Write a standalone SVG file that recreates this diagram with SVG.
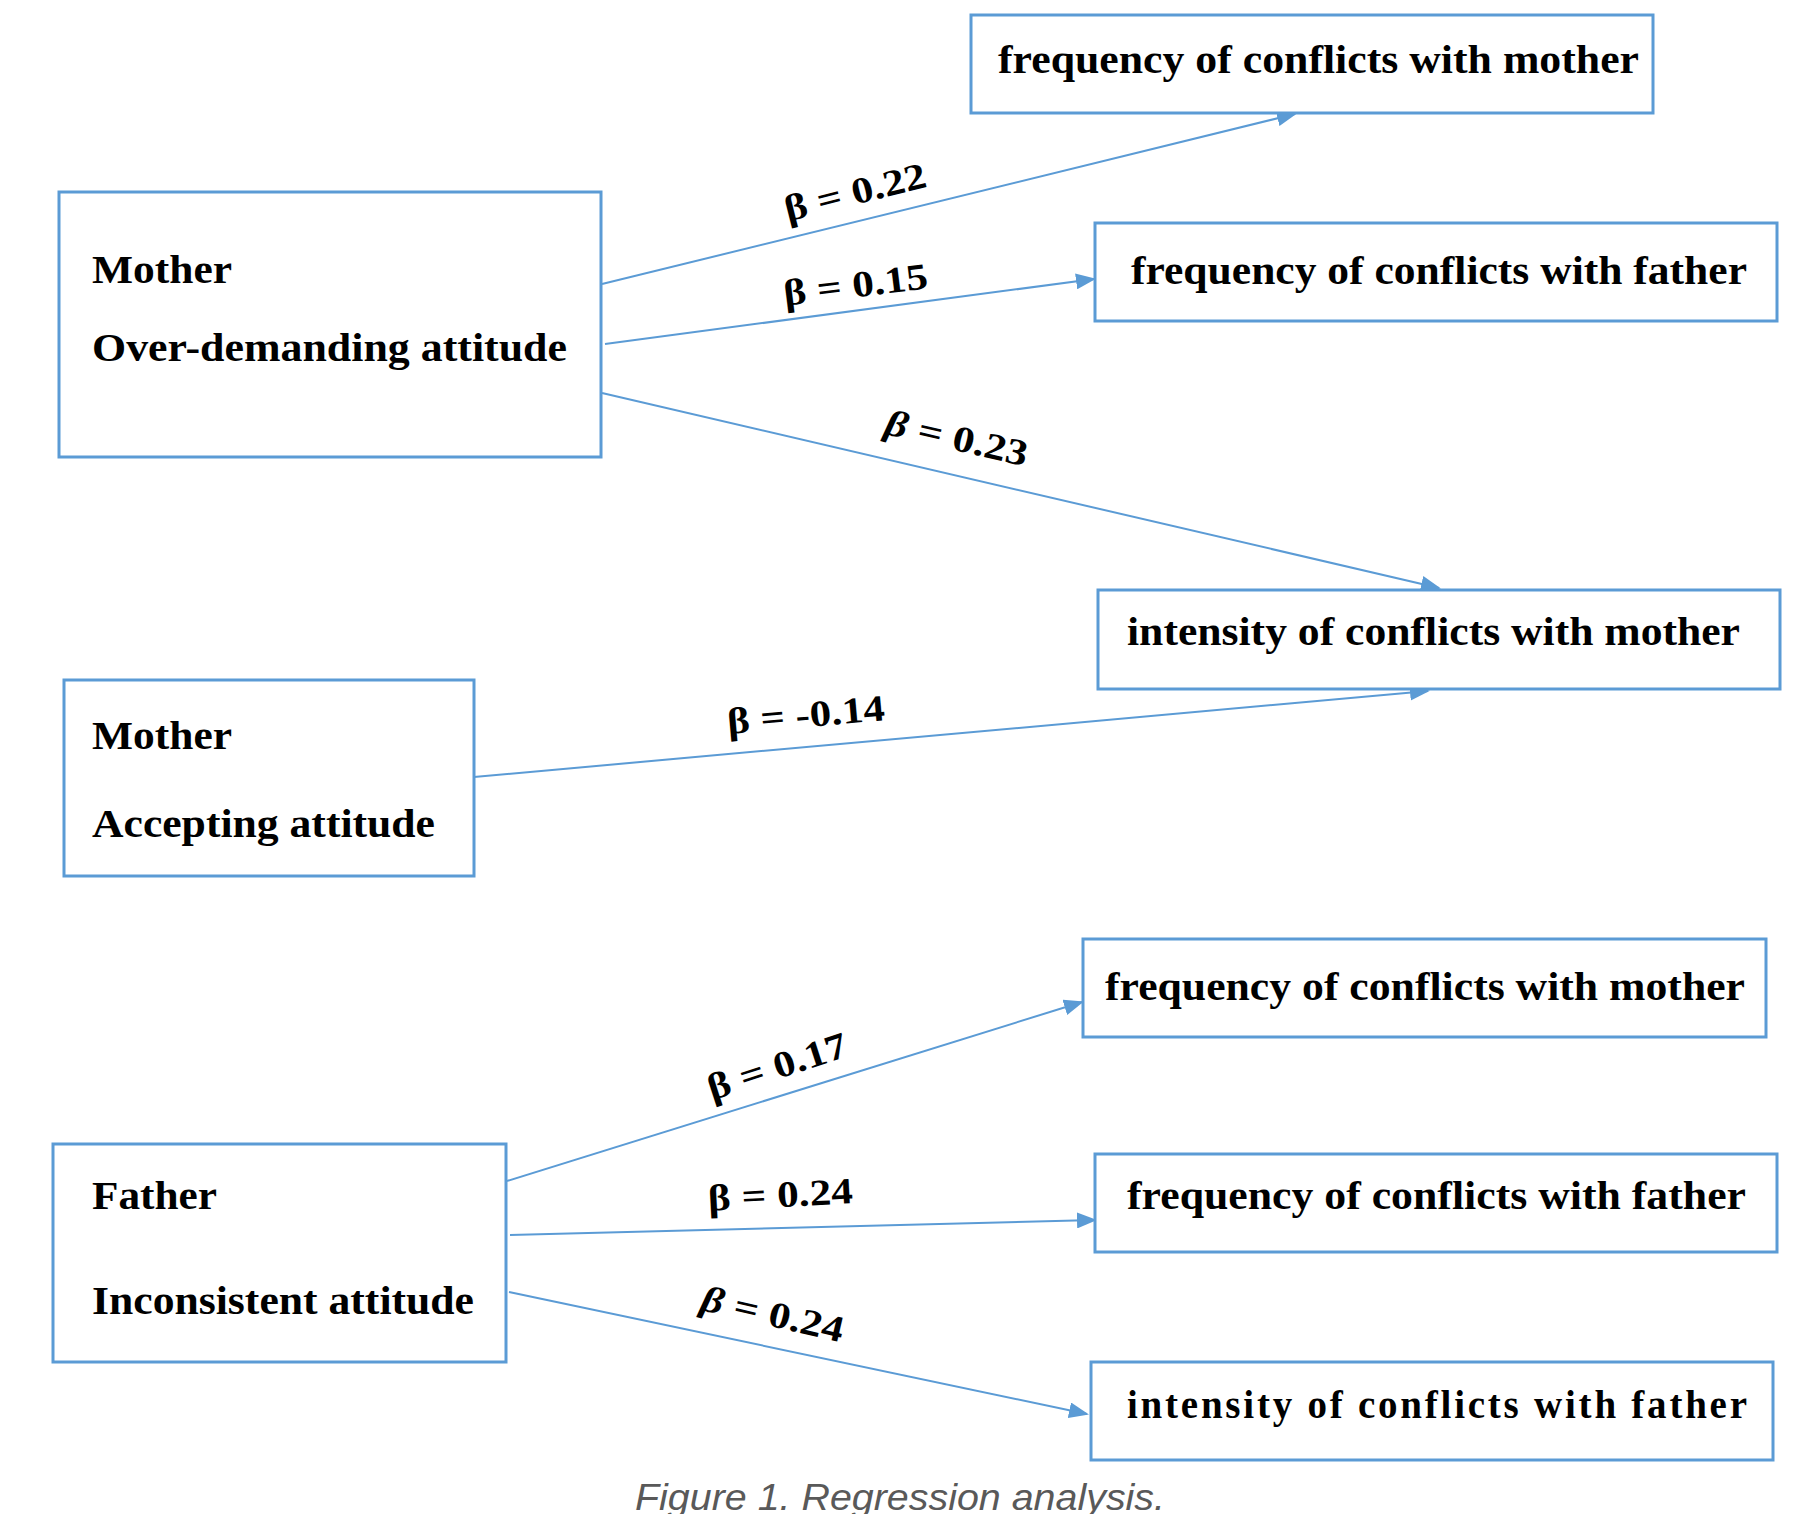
<svg xmlns="http://www.w3.org/2000/svg" width="1804" height="1514" viewBox="0 0 1804 1514">
<style>
.box{fill:#fff;stroke:#5b9bd5;stroke-width:3}
.t{font-family:"Liberation Serif",serif;font-weight:bold;font-size:39px;fill:#000}
.l{font-family:"Liberation Serif",serif;font-weight:bold;font-size:37px;fill:#000;text-anchor:middle}
.c{stroke:#5b9bd5;stroke-width:2;fill:none;marker-end:url(#a2)}
</style>
<defs>
<marker id="a2" viewBox="0 0 10 10" refX="9" refY="5" markerWidth="20" markerHeight="16" orient="auto" markerUnits="userSpaceOnUse" preserveAspectRatio="none"><path d="M0,0L10,5L0,10z" fill="#5b9bd5"/></marker></defs>
<rect width="1804" height="1514" fill="#fff"/>
<g id="connectors">
<line class="c" x1="602" y1="284" x2="1295" y2="114"/>
<line class="c" x1="605" y1="344" x2="1094" y2="279"/>
<line class="c" x1="602" y1="393" x2="1439" y2="588"/>
<line class="c" x1="474" y1="777" x2="1428" y2="691"/>
<line class="c" x1="507" y1="1181" x2="1082" y2="1002"/>
<line class="c" x1="510" y1="1235" x2="1095" y2="1220"/>
<line class="c" x1="509" y1="1292" x2="1087" y2="1414"/>
<text class="l" transform="translate(858,204) rotate(-14)" textLength="145" lengthAdjust="spacingAndGlyphs">β = 0.22</text>
<text class="l" transform="translate(857,297) rotate(-7)" textLength="145" lengthAdjust="spacingAndGlyphs">β = 0.15</text>
<text class="l" transform="translate(954,450) rotate(13)" textLength="145" lengthAdjust="spacingAndGlyphs"><tspan font-style="italic">β</tspan> = 0.23</text>
<text class="l" transform="translate(807,727) rotate(-5)" textLength="158" lengthAdjust="spacingAndGlyphs">β = -0.14</text>
<text class="l" transform="translate(781,1078) rotate(-18)" textLength="145" lengthAdjust="spacingAndGlyphs">β = 0.17</text>
<text class="l" transform="translate(781,1207) rotate(-3)" textLength="145" lengthAdjust="spacingAndGlyphs">β = 0.24</text>
<text class="l" transform="translate(770,1326) rotate(13)" textLength="145" lengthAdjust="spacingAndGlyphs"><tspan font-style="italic">β</tspan> = 0.24</text>
</g>
<g id="n1"><rect class="box" x="971" y="15" width="682" height="98"/><text class="t" x="998" y="73" textLength="641" lengthAdjust="spacingAndGlyphs">frequency of conflicts with mother</text></g>
<g id="n2"><rect class="box" x="1095" y="223" width="682" height="98"/><text class="t" x="1131" y="284" textLength="616" lengthAdjust="spacingAndGlyphs">frequency of conflicts with father</text></g>
<g id="n3"><rect class="box" x="59" y="192" width="542" height="265"/><text class="t" x="92" y="283" textLength="140" lengthAdjust="spacingAndGlyphs">Mother</text><text class="t" x="92" y="361" textLength="475" lengthAdjust="spacingAndGlyphs">Over-demanding attitude</text></g>
<g id="n4"><rect class="box" x="1098" y="590" width="682" height="99"/><text class="t" x="1127" y="645" textLength="613" lengthAdjust="spacingAndGlyphs">intensity of conflicts with mother</text></g>
<g id="n5"><rect class="box" x="64" y="680" width="410" height="196"/><text class="t" x="92" y="749" textLength="140" lengthAdjust="spacingAndGlyphs">Mother</text><text class="t" x="92" y="837" textLength="343" lengthAdjust="spacingAndGlyphs">Accepting attitude</text></g>
<g id="n6"><rect class="box" x="1083" y="939" width="683" height="98"/><text class="t" x="1105" y="1000" textLength="640" lengthAdjust="spacingAndGlyphs">frequency of conflicts with mother</text></g>
<g id="n7"><rect class="box" x="1095" y="1154" width="682" height="98"/><text class="t" x="1127" y="1209" textLength="619" lengthAdjust="spacingAndGlyphs">frequency of conflicts with father</text></g>
<g id="n8"><rect class="box" x="53" y="1144" width="453" height="218"/><text class="t" x="92" y="1209" textLength="125" lengthAdjust="spacingAndGlyphs">Father</text><text class="t" x="92" y="1314" textLength="382" lengthAdjust="spacingAndGlyphs">Inconsistent attitude</text></g>
<g id="n9"><rect class="box" x="1091" y="1362" width="682" height="98"/><text class="t" x="1127" y="1418" textLength="620" lengthAdjust="spacing">intensity of conflicts with father</text></g>
<text x="900" y="1510" font-family="Liberation Sans,sans-serif" font-style="italic" font-size="37" fill="#595959" text-anchor="middle" textLength="530" lengthAdjust="spacingAndGlyphs">Figure 1. Regression analysis.</text>
</svg>
